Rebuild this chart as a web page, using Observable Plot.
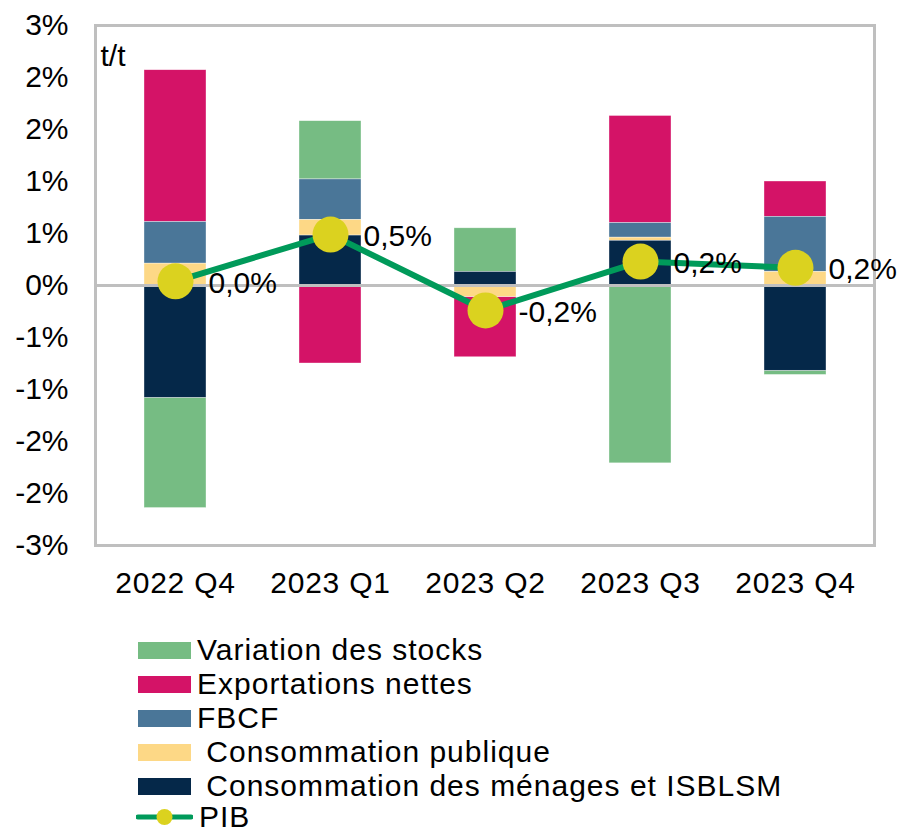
<!DOCTYPE html>
<html>
<head>
<meta charset="utf-8">
<script src="https://cdn.jsdelivr.net/npm/d3@7"></script>
<script src="https://cdn.jsdelivr.net/npm/@observablehq/plot@0.6"></script>
<style>
  body { margin: 0; background: white; font-family: "Liberation Sans", Arial, sans-serif; }
  #legend { position: relative; padding-top: 3px; }
  .row { height: 34px; display: flex; align-items: center; font-size: 30px; color: #000; white-space: pre; letter-spacing: 1px; }
  .row.last { height: 28px; }
  .sw { width: 53px; height: 17px; margin-left: 138px; margin-right: 6px; flex: none; }
  .icon { margin-left: 136px; margin-right: 6px; flex: none; }
</style>
</head>
<body>
<div id="chart"></div>
<div id="legend"></div>
<script>
const quarters = ["2022 Q4", "2023 Q1", "2023 Q2", "2023 Q3", "2023 Q4"];
const stocks     = [-1.06,  0.56,  0.42, -1.71, -0.04];
const exportsNet = [ 1.46, -0.75, -0.58,  1.03,  0.34];
const fbcf       = [ 0.40,  0.39,  0.00,  0.14,  0.53];
const publicCons = [ 0.21,  0.15, -0.11,  0.03,  0.13];
const households = [-1.08,  0.48,  0.13,  0.43, -0.82];
const pib        = [ 0.04,  0.49, -0.24,  0.23,  0.17];

const yTicks = [-2.5, -2, -1.5, -1, -0.5, 0, 0.5, 1, 1.5, 2, 2.5];
const yTickLabels = ["-3%", "-2%", "-2%", "-1%", "-1%", "0%", "1%", "1%", "2%", "2%", "3%"];

const seriesNames = ["Variation des stocks", "Exportations nettes", "FBCF", "Consommation publique", "Consommation des ménages et ISBLSM"];
const seriesColors = ["#76bc83", "#d41367", "#4a7698", "#fdd886", "#052849"];
const legendLabels = ["Variation des stocks", "Exportations nettes", "FBCF", " Consommation publique", " Consommation des ménages et ISBLSM"];
const stackOrder = ["Consommation des ménages et ISBLSM", "Consommation publique", "FBCF", "Exportations nettes", "Variation des stocks"];

const seriesValues = [stocks, exportsNet, fbcf, publicCons, households];
const rows = [];
seriesNames.forEach((s, si) => quarters.forEach((q, qi) => rows.push({quarter: q, series: s, value: seriesValues[si][qi]})));
const pibRows = quarters.map((q, i) => ({quarter: q, pib: pib[i]}));
const fmt = v => (v < 0 ? "-" : "") + Math.abs(v).toFixed(1).replace(".", ",") + "%";

const chart = Plot.plot({
  width: 906,
  height: 630,
  marginLeft: 95,
  marginRight: 32,
  marginTop: 25,
  marginBottom: 85,
  style: {fontFamily: "'Liberation Sans', Arial, sans-serif", fontSize: "30px", background: "white", color: "black"},
  x: {domain: quarters, paddingInner: 0.6, paddingOuter: 0.3, label: null, tickSize: 0, tickPadding: 26},
  y: {domain: [-2.5, 2.5], ticks: yTicks, tickFormat: d => yTickLabels[yTicks.indexOf(d)], label: null, tickSize: 0, tickPadding: 27},
  color: {domain: seriesNames, range: seriesColors},
  marks: [
    Plot.barY(rows, {x: "quarter", y: "value", z: "series", fill: "series", order: stackOrder, stroke: "white", strokeWidth: 0.6, strokeOpacity: 0.6}),
    Plot.ruleY([0], {stroke: "#bfbfbf", strokeWidth: 3}),
    Plot.frame({stroke: "#bfbfbf", strokeWidth: 3}),
    Plot.text(["t/t"], {frameAnchor: "top-left", dx: 5, dy: 19, lineAnchor: "top", textAnchor: "start", fontSize: 30, fill: "black"}),
    Plot.line(pibRows, {x: "quarter", y: "pib", stroke: "#009a5a", strokeWidth: 6}),
    Plot.dot(pibRows, {x: "quarter", y: "pib", r: 18, fill: "#dbd21f", stroke: "none"}),
    Plot.text(pibRows, {x: "quarter", y: "pib", text: d => fmt(d.pib), dx: 33, dy: 2, textAnchor: "start", fontSize: 30, fill: "black", ariaLabel: "pib-label"})
  ]
});
document.getElementById("chart").appendChild(chart);
d3.select(chart).selectAll('[aria-label="x-axis tick label"] text').style("letter-spacing", "0.8px");
d3.select(chart).selectAll('[aria-label="pib-label"] text').style("letter-spacing", "0.6px");

const legend = document.getElementById("legend");
legendLabels.forEach((lab, i) => {
  const row = document.createElement("div");
  row.className = "row";
  const sw = document.createElement("div");
  sw.className = "sw";
  sw.style.background = seriesColors[i];
  row.appendChild(sw);
  const t = document.createElement("span");
  t.textContent = lab;
  row.appendChild(t);
  legend.appendChild(row);
});
const pr = document.createElement("div");
pr.className = "row last";
pr.innerHTML = '<svg class="icon" width="57" height="20"><line x1="2" y1="10" x2="55" y2="10" stroke="#009a5a" stroke-width="5" stroke-linecap="round"/><circle cx="28.5" cy="10" r="8" fill="#dbd21f"/></svg><span>PIB</span>';
legend.appendChild(pr);
</script>
</body>
</html>
